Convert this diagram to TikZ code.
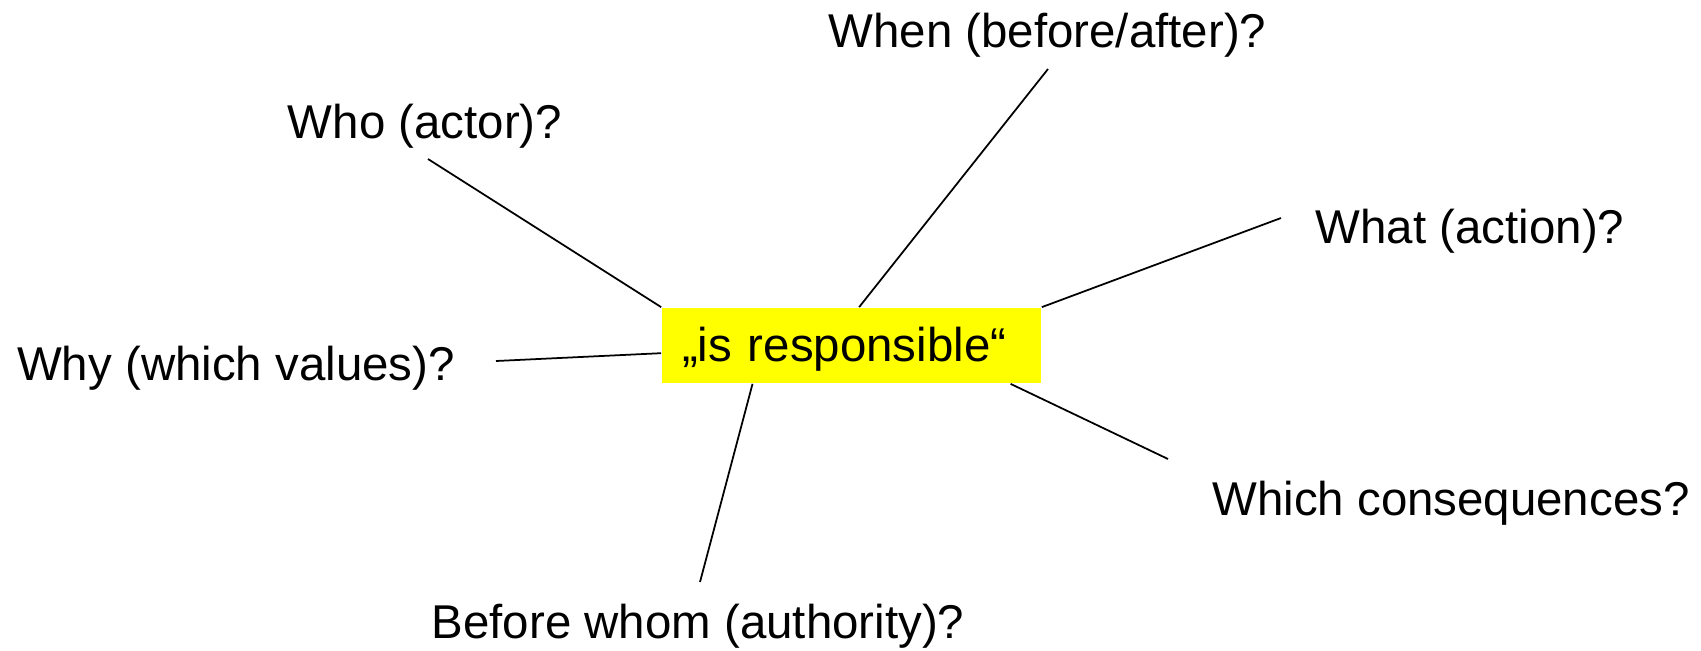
\documentclass[tikz,border=0pt]{standalone}
\usepackage{fontspec}
\setmainfont{Liberation Sans}
\usetikzlibrary{calc}
\definecolor{hiyellow}{RGB}{255,255,0}

\begin{document}
\begin{tikzpicture}[x=.02cm,y=-.02cm,line width=1pt,font=\fontsize{27}{32}\selectfont]
\useasboundingbox (0,0) rectangle (1701,650);
\node[fill=hiyellow,text width=6.78cm,inner xsep=.4cm,inner ysep=0pt,minimum height=1.5cm,text height=.82cm,text depth=.2cm,align=left] (resp) at (851.5,345.5) {„is responsible“};
\node[anchor=base] (who) at (425,138) {Who (actor)?};\node[anchor=base] (when) at (1047.5,47) {When (before/after)?};
\node[anchor=base] (what) at (1470,243) {What (action)?};\node[anchor=base] (why) at (236,380) {Why (which values)?};
\node[anchor=base] (cons) at (1451,515) {Which consequences?};\node[anchor=base] (whom) at (698,638) {Before whom (authority)?};
\coordinate (w1) at (428,159);\coordinate (w2) at (1048,69);\coordinate (w3) at (1281,218);
\coordinate (w4) at (496,361);\coordinate (w5) at (1168,459);\coordinate (w6) at (700,582);
\draw (w1)--(resp.north west);\draw (w2)--($(resp.north west)!.52!(resp.north east)$);
\draw (w3)--(resp.north east);\draw (w4)--($(resp.north west)!.6!(resp.south west)$);
\draw (w5)--($(resp.south west)!.918!(resp.south east)$);\draw (w6)--($(resp.south west)!.24!(resp.south east)$);
\end{tikzpicture}
\end{document}
